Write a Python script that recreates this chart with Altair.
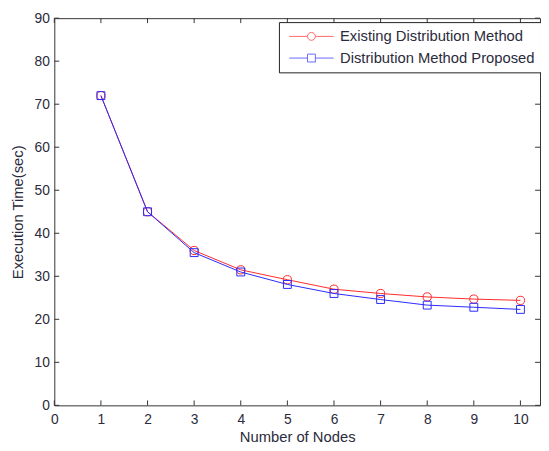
import altair as alt
import pandas as pd

nodes = [1, 2, 3, 4, 5, 6, 7, 8, 9, 10]
existing = [72.0, 45.0, 36.0, 31.5, 29.2, 27.0, 26.0, 25.2, 24.7, 24.4]
proposed = [72.0, 45.0, 35.5, 31.0, 28.1, 26.0, 24.6, 23.3, 22.8, 22.3]
series_names = ["Existing Distribution Method", "Distribution Method Proposed"]
series_colors = ["#ff2a2a", "#2a2aff"]
x_ticks = [0, 1, 2, 3, 4, 5, 6, 7, 8, 9, 10]
y_ticks = [0, 10, 20, 30, 40, 50, 60, 70, 80, 90]

W, H = 493, 393
FONT = "Liberation Sans"
TXT = "#2b2b3b"

rows = []
for n, e in zip(nodes, existing):
    rows.append({"node": n, "time": e, "series": series_names[0]})
for n, p in zip(nodes, proposed):
    rows.append({"node": n, "time": p, "series": series_names[1]})
df = pd.DataFrame(rows)

xscale = alt.Scale(domain=[0, 10.42], nice=False, zero=False)
yscale = alt.Scale(domain=[0, 90], nice=False)

xaxis = alt.Axis(values=x_ticks, title="Number of Nodes", ticks=False, domain=False, grid=False,
                 labelFontSize=14, titleFontSize=15, labelPadding=7, titlePadding=4,
                 labelFont=FONT, titleFont=FONT, labelColor=TXT, titleColor=TXT,
                 titleFontWeight="normal", labelFlush=False)
yaxis = alt.Axis(values=y_ticks, title="Execution Time(sec)", ticks=False, domain=False, grid=False,
                 labelFontSize=14, titleFontSize=15, labelPadding=5, titlePadding=9,
                 labelFont=FONT, titleFont=FONT, labelColor=TXT, titleColor=TXT,
                 titleFontWeight="normal", labelFlush=False)

base = alt.Chart(df)
X = alt.X("node:Q", scale=xscale, axis=xaxis)
Y = alt.Y("time:Q", scale=yscale, axis=yaxis)

layers = []
for name, col, shp, sz in zip(series_names, series_colors, ["circle", "square"], [70, 64]):
    sub = base.transform_filter(alt.datum.series == name)
    layers.append(sub.mark_line(strokeWidth=1, color=col).encode(x=X, y=Y))
    layers.append(sub.mark_point(filled=False, size=sz, strokeWidth=1, color=col, shape=shp,
                                 opacity=1).encode(x=X, y=Y))

# legend symbols: line with marker (units of 8px)
circ_path = ("M-0.5,0L1.81,0M2.81,0L5.12,0"
             "M2.81,0A0.5,0.5 0 1,1 1.81,0A0.5,0.5 0 1,1 2.81,0")
sq_path = ("M-0.5,0L1.81,0M2.81,0L5.12,0"
           "M1.81,-0.5L2.81,-0.5L2.81,0.5L1.81,0.5Z")

leg = alt.Legend(title=None, orient="none", legendX=228, legendY=4,
                 strokeColor="#222222", fillColor="white", padding=6,
                 labelFont=FONT, labelFontSize=15, labelColor=TXT,
                 labelLimit=400, symbolStrokeWidth=1,
                 symbolSize=256, rowPadding=5, labelOffset=39)

# legend-only layer: no visible data, legend entries come from the fixed scale domains
legend_layer = base.transform_filter(alt.datum.node < 0).mark_point(
    filled=False, size=256, strokeWidth=1).encode(
    x=X, y=Y,
    shape=alt.Shape("series:N", scale=alt.Scale(domain=series_names, range=[circ_path, sq_path]),
                    legend=leg),
    stroke=alt.Stroke("series:N", scale=alt.Scale(domain=series_names, range=series_colors),
                      legend=leg),
)

bx = pd.DataFrame({"v": x_ticks})
by = pd.DataFrame({"v": y_ticks})
tick_color = "#333333"
tb = alt.Chart(bx).mark_rule(color=tick_color, strokeWidth=1).encode(
    x=alt.X("v:Q", scale=xscale), y=alt.value(H), y2=alt.value(H - 5))
tt = alt.Chart(bx).mark_rule(color=tick_color, strokeWidth=1).encode(
    x=alt.X("v:Q", scale=xscale), y=alt.value(0), y2=alt.value(5))
tl = alt.Chart(by).mark_rule(color=tick_color, strokeWidth=1).encode(
    y=alt.Y("v:Q", scale=yscale), x=alt.value(0), x2=alt.value(5))
tr = alt.Chart(by).mark_rule(color=tick_color, strokeWidth=1).encode(
    y=alt.Y("v:Q", scale=yscale), x=alt.value(W), x2=alt.value(W - 5))

chart = alt.layer(tb, tt, tl, tr, *layers, legend_layer).properties(
    width=W, height=H,
    autosize=alt.AutoSizeParams(type="none"),
    padding={"left": 47, "top": 7, "right": 1, "bottom": 42},
    background="white",
).configure_view(stroke="#333333", strokeWidth=1)

chart.save("out.html", embed_options={"renderer": "svg", "actions": False})
